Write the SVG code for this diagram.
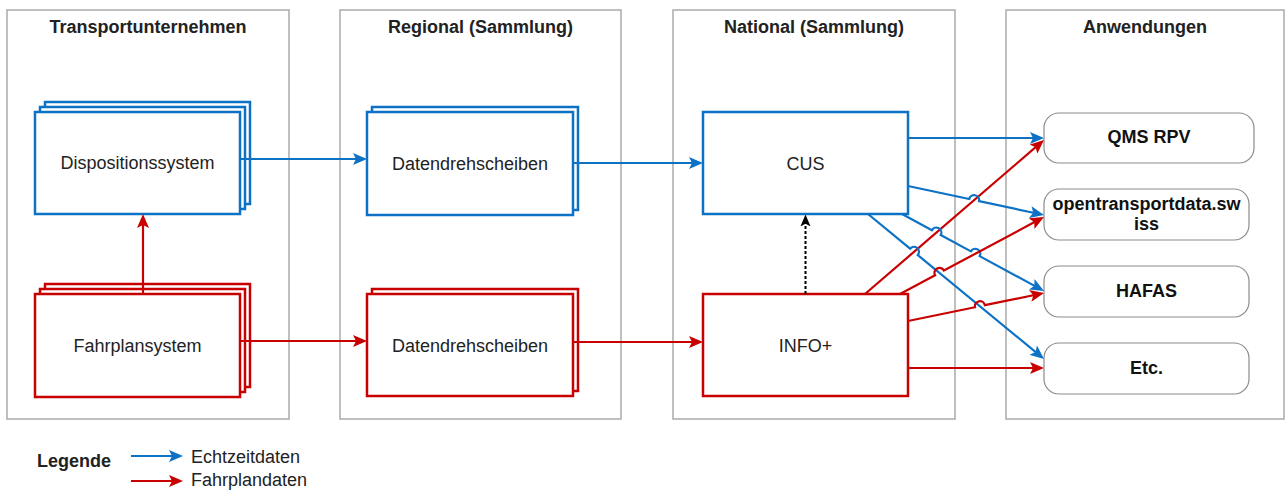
<svg xmlns="http://www.w3.org/2000/svg" width="1285" height="490" viewBox="0 0 1285 490">
<style>
.lane{fill:#fff;stroke:#aaaaaa;stroke-width:1.5}
.title{font-family:"Liberation Sans",Arial,sans-serif;font-size:18px;font-weight:bold;fill:#222;text-anchor:middle}
.lbl{font-family:"Liberation Sans",Arial,sans-serif;font-size:18px;fill:#222;text-anchor:middle}
.blbl{font-family:"Liberation Sans",Arial,sans-serif;font-size:18px;font-weight:bold;fill:#111;text-anchor:middle}
.bbox{fill:#fff;stroke:#0d72c6;stroke-width:2.5}
.rbox{fill:#fff;stroke:#c80000;stroke-width:2.5}
.app{fill:#fff;stroke:#8c8c8c;stroke-width:1.2}
.bl{fill:none;stroke:#0d72c6;stroke-width:2.2;marker-end:url(#ab)}
.rl{fill:none;stroke:#c80000;stroke-width:2.2;marker-end:url(#ar)}
.dl{fill:none;stroke:#000;stroke-width:2;stroke-dasharray:3 2;marker-end:url(#ak)}
</style>
<defs>
<marker id="ab" viewBox="0 0 14 12" markerWidth="14" markerHeight="12" refX="8" refY="6" orient="auto" markerUnits="userSpaceOnUse"><path d="M0,0 L14,6 L0,12 L3,6 Z" fill="#0d72c6"/></marker>
<marker id="ar" viewBox="0 0 14 12" markerWidth="14" markerHeight="12" refX="8" refY="6" orient="auto" markerUnits="userSpaceOnUse"><path d="M0,0 L14,6 L0,12 L3,6 Z" fill="#c80000"/></marker>
<marker id="ak" viewBox="0 0 13 11" markerWidth="12" markerHeight="11" refX="7" refY="5.5" orient="auto" markerUnits="userSpaceOnUse"><path d="M0,0 L13,5.5 L0,11 L3,5.5 Z" fill="#000"/></marker>
</defs>
<rect width="1285" height="490" fill="#fff"/>
<g id="lane-transport"><rect class="lane" x="7" y="10" width="282" height="409"/><text class="title" x="148" y="33">Transportunternehmen</text></g>
<g id="lane-regional"><rect class="lane" x="340" y="10" width="281" height="409"/><text class="title" x="480.5" y="33">Regional (Sammlung)</text></g>
<g id="lane-national"><rect class="lane" x="673" y="10" width="282" height="409"/><text class="title" x="814" y="33">National (Sammlung)</text></g>
<g id="lane-anwendungen"><rect class="lane" x="1006" y="10" width="278" height="409"/><text class="title" x="1145" y="33">Anwendungen</text></g>

<g id="dispositionssystem">
<rect class="bbox" x="45" y="102" width="205" height="102"/>
<rect class="bbox" x="40" y="107" width="205" height="102"/>
<rect class="bbox" x="35" y="112" width="205" height="102"/>
<text class="lbl" x="137.5" y="169">Dispositionssystem</text>
</g>
<g id="fahrplansystem">
<rect class="rbox" x="45" y="284" width="205" height="103"/>
<rect class="rbox" x="40" y="289" width="205" height="103"/>
<rect class="rbox" x="35" y="294" width="205" height="103"/>
<text class="lbl" x="137.5" y="352">Fahrplansystem</text>
</g>
<g id="datendrehscheiben-echtzeit">
<rect class="bbox" x="372" y="107" width="206" height="103"/>
<rect class="bbox" x="367" y="112" width="206" height="103"/>
<text class="lbl" x="470" y="170">Datendrehscheiben</text>
</g>
<g id="datendrehscheiben-fahrplan">
<rect class="rbox" x="372" y="289" width="206" height="102"/>
<rect class="rbox" x="367" y="294" width="206" height="102"/>
<text class="lbl" x="470" y="352">Datendrehscheiben</text>
</g>
<g id="cus">
<rect class="bbox" x="703" y="112" width="205" height="102"/>
<text class="lbl" x="805.5" y="170">CUS</text>
</g>
<g id="info">
<rect class="rbox" x="703" y="294" width="205" height="102"/>
<text class="lbl" x="805.5" y="351.5">INFO+</text>
</g>
<g id="qms">
<rect class="app" x="1044" y="113" width="210" height="50" rx="15"/>
<text class="blbl" x="1149" y="143">QMS RPV</text>
</g>
<g id="otd">
<rect class="app" x="1044" y="189" width="205" height="51" rx="15"/>
<text class="blbl" x="1146.5" y="210">opentransportdata.sw</text>
<text class="blbl" x="1146.5" y="230">iss</text>
</g>
<g id="hafas">
<rect class="app" x="1044" y="266" width="205" height="51" rx="15"/>
<text class="blbl" x="1146.5" y="297">HAFAS</text>
</g>
<g id="etc">
<rect class="app" x="1044" y="343" width="205" height="51" rx="15"/>
<text class="blbl" x="1146.5" y="374">Etc.</text>
</g>

<g id="connectors">
<path class="bl" d="M240,159 L361,159"/>
<path class="bl" d="M573,163 L697,163"/>
<path class="rl" d="M143,294 L143,220"/>
<path class="rl" d="M240,341 L361,341"/>
<path class="rl" d="M573,342 L697,342"/>
<path class="dl" d="M805.5,294 L805.5,220"/>
<path class="rl" d="M865,294 L1039.45,143.91"/>
<path class="bl" d="M908,138 L1038,138"/>
<path class="bl" d="M908,186 L969.24,199.06 A5,5 0 0 1 979.02,201.14 L1038.13,213.75"/>
<path class="bl" d="M902,214 L931.94,230.24 A5,5 0 0 1 940.74,235 L970.89,251.36 A5,5 0 0 1 979.69,256.12 L1038.73,288.14"/>
<path class="bl" d="M868,214 L910.1,248.69 A5,5 0 0 1 917.82,255.05 L1039.37,355.18"/>
<path class="rl" d="M900,294 L935.07,275.25 A5,5 0 0 1 943.89,270.53 L1038.71,219.83"/>
<path class="rl" d="M908,321 L975.01,307.21 A5,5 0 0 1 984.81,305.19 L1038.12,294.21"/>
<path class="rl" d="M908,368 L1038,368"/>
</g>

<g id="legend">
<text class="title" x="37" y="467" style="text-anchor:start">Legende</text>
<path class="bl" d="M131,456 L177,456"/>
<text class="lbl" x="191" y="463" style="text-anchor:start">Echtzeitdaten</text>
<path class="rl" d="M131,481 L177,481"/>
<text class="lbl" x="191" y="486" style="text-anchor:start">Fahrplandaten</text>
</g>
</svg>
